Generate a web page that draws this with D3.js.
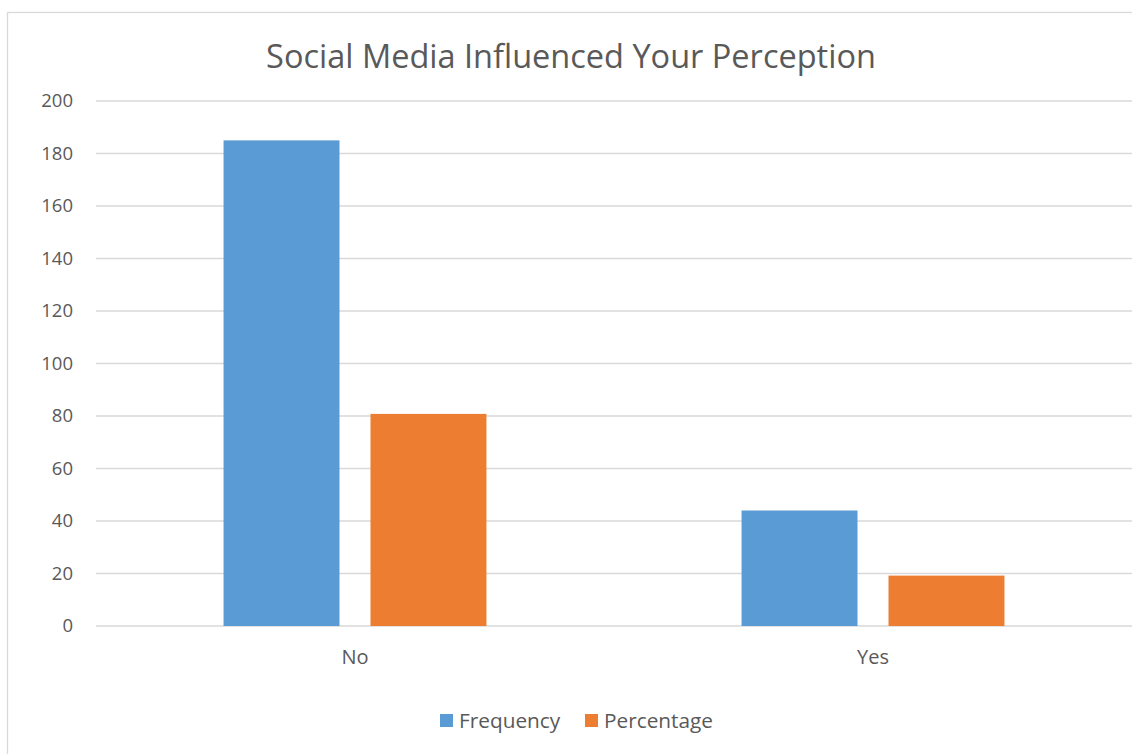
<!DOCTYPE html>
<html>
<head>
<meta charset="utf-8">
<script src="https://d3js.org/d3.v7.min.js"></script>
<style>
  html, body { margin: 0; padding: 0; background: #fff; }
  svg { display: block; }
</style>
</head>
<body>
<script>
const categories = ["No", "Yes"];
const seriesNames = ["Frequency", "Percentage"];
const frequency = [185, 44];
const percentage = [80.8, 19.2];
const yTicks = [0, 20, 40, 60, 80, 100, 120, 140, 160, 180, 200];
const title = "Social Media Influenced Your Perception";
const colors = ["#5b9bd5", "#ed7d31"];

const W = 1132, H = 754;
const font = "'Open Sans', 'Noto Sans', sans-serif";
const textColor = "#595959";

const svg = d3.select("body").append("svg").attr("width", W).attr("height", H);

// chart border
svg.append("rect").attr("x", 7.5).attr("y", 12.5).attr("width", W + 10).attr("height", H + 10)
  .attr("fill", "#fff").attr("stroke", "#d9d9d9").attr("stroke-width", 1.3);

const plot = { left: 96, right: 1132, top: 101, bottom: 626 };

const y = d3.scaleLinear().domain([0, 200]).range([plot.bottom, plot.top]);
const x0 = d3.scaleBand().domain(categories).range([plot.left, plot.right]).padding(0);
const x1 = d3.scaleBand().domain(seriesNames).range([0, x0.bandwidth()])
  .paddingInner(0.211).paddingOuter(0.868);

// gridlines
svg.append("g").selectAll("line").data(yTicks).join("line")
  .attr("x1", plot.left).attr("x2", plot.right)
  .attr("y1", d => y(d)).attr("y2", d => y(d))
  .attr("stroke", "#d9d9d9").attr("stroke-width", 1.3);

// y axis labels
const yAxis = d3.axisLeft(y).tickValues(yTicks).tickSize(0).tickPadding(0);
const gy = svg.append("g").attr("transform", `translate(73,0)`).call(yAxis);
gy.select(".domain").remove();
gy.selectAll("text").attr("font-family", font).attr("font-size", 18.5).attr("fill", textColor);

// bars
const rows = categories.map((c, i) => ({ cat: c, vals: [frequency[i], percentage[i]] }));
const groups = svg.append("g").selectAll("g").data(rows).join("g")
  .attr("transform", d => `translate(${x0(d.cat)},0)`);
groups.selectAll("rect").data(d => d.vals.map((v, j) => ({ s: seriesNames[j], v, j })))
  .join("rect")
  .attr("x", d => x1(d.s))
  .attr("width", x1.bandwidth())
  .attr("y", d => y(d.v))
  .attr("height", d => y(0) - y(d.v))
  .attr("fill", d => colors[d.j]);

// x axis labels
const xAxis = d3.axisBottom(x0).tickSize(0).tickPadding(0);
const gx = svg.append("g").attr("transform", `translate(0,${plot.bottom})`).call(xAxis);
gx.select(".domain").remove();
gx.selectAll("text").attr("font-family", font).attr("font-size", 20).attr("fill", textColor)
  .attr("y", 38).attr("dy", 0);

// title
svg.append("text").attr("x", 571).attr("y", 68).attr("text-anchor", "middle")
  .attr("font-family", font).attr("font-size", 32.5).attr("fill", textColor).text(title);

// legend
const legendItems = [
  { name: seriesNames[0], x: 440, color: colors[0] },
  { name: seriesNames[1], x: 585, color: colors[1] }
];
const lg = svg.append("g").selectAll("g").data(legendItems).join("g")
  .attr("transform", d => `translate(${d.x},714)`);
lg.append("rect").attr("width", 13).attr("height", 13).attr("fill", d => d.color);
lg.append("text").attr("x", 19).attr("y", 14).attr("font-family", font).attr("font-size", 20.8)
  .attr("fill", textColor).text(d => d.name);
</script>
</body>
</html>
